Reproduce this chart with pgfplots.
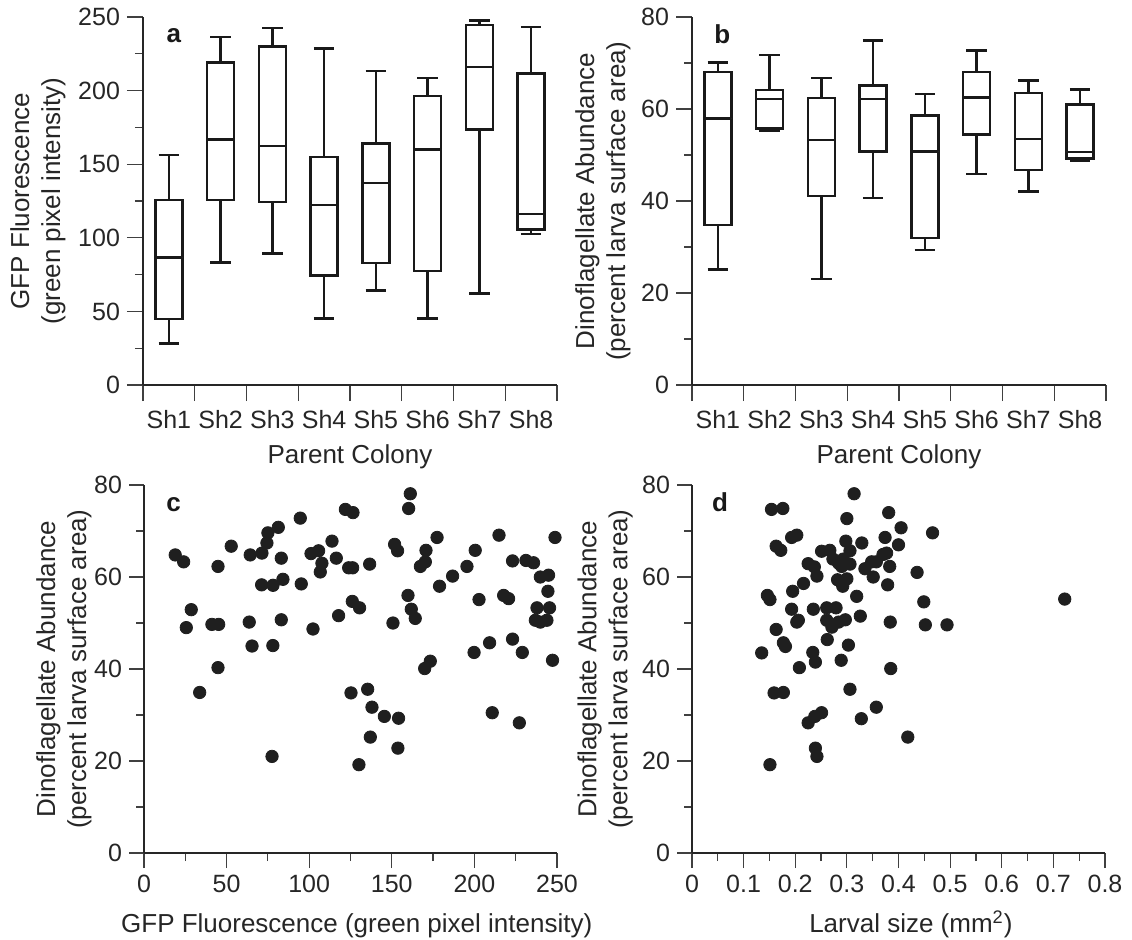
\documentclass[border=0pt]{standalone}
\usepackage{fontspec}
\setmainfont{Liberation Sans}
\usepackage{pgfplots}
\pgfplotsset{compat=1.18}
\usepgfplotslibrary{statistics}

\pgfplotsset{
  base/.style={
    scale only axis,
    anchor=south west,
    axis x line*=bottom, axis y line*=left,
    axis line style={-, line width=1.2pt, black!85},
    tick align=outside,
    major tick length=7.5pt, minor tick length=4pt,
    tick style={line width=0.6pt, black!75},
    font=\fontsize{12.5}{15}\selectfont,
    tick label style={font=\fontsize{12.5}{15}\selectfont, black!85},
    label style={font=\fontsize{13}{15.5}\selectfont, black!85},
    /pgf/number format/assume math mode=true,
    ylabel style={align=center, anchor=center},
    xlabel style={anchor=base},
    clip=false,
  },
  boxax/.style={
    base, width=207pt, height=184pt,
    xmin=0.5, xmax=8.5,
    xtick={0.5,1.5,2.5,3.5,4.5,5.5,6.5,7.5,8.5},
    xticklabels={Sh1,Sh2,Sh3,Sh4,Sh5,Sh6,Sh7,Sh8,{}},
    xticklabel style={xshift=12.94pt, yshift=-1pt},
    major tick length=8pt,
    minor y tick num=1,
    xlabel={Parent Colony},
    xlabel style={at={(axis description cs:0.5,-0.212)}},
    boxplot/draw direction=y,
    boxplot/box extend=0.52,
    boxplot/whisker extend=0.4,
  },
  bx/.style={black!90, line width=1.2pt, fill=white},
  scat/.style={only marks, mark=*, mark size=3.1pt, mark options={fill=black!88, draw=black!88}},
}
\newcommand{\bxp}[6]{\addplot[bx, boxplot prepared={draw position=#1, lower whisker=#2, lower quartile=#3, median=#4, upper quartile=#5, upper whisker=#6}] coordinates {};}
\newcommand{\plab}[3]{\node[anchor=base west, inner sep=0pt, font=\bfseries\fontsize{13}{13}\selectfont, black!90] at (axis description cs:#1,#2) {#3};}

\begin{document}
\begin{tikzpicture}
\useasboundingbox (0,0) rectangle (566pt,-469.5pt);

% ---------------- a ----------------
\begin{axis}[boxax, at={(71.5pt,-192.5pt)},
  ymin=0, ymax=250, ytick={0,50,100,150,200,250},
  ylabel={GFP Fluorescence\\(green pixel intensity)},
  ylabel style={at={(axis description cs:-0.2536,0.5)}}]
\bxp{1}{28.3}{44.8}{86.5}{125.7}{156.3}
\bxp{2}{83.3}{125.7}{166.9}{219.0}{236.6}
\bxp{3}{89.4}{124.3}{162.4}{229.9}{242.7}
\bxp{4}{45.3}{74.5}{122.1}{155.1}{228.7}
\bxp{5}{64.1}{82.8}{137.2}{164.2}{213.3}
\bxp{6}{45.3}{77.4}{159.9}{196.5}{208.6}
\bxp{7}{62.3}{173.7}{216.0}{244.6}{247.5}
\bxp{8}{102.4}{105.7}{116.0}{211.7}{243.4}
\plab{0.056}{0.932}{a}
\end{axis}

% ---------------- b ----------------
\begin{axis}[boxax, at={(346pt,-192.5pt)},
  ymin=0, ymax=80, ytick={0,20,40,60,80},
  ylabel={Dinoflagellate Abundance\\(percent larva surface area)},
  ylabel style={at={(axis description cs:-0.215,0.5)}}]
\bxp{1}{25.1}{34.8}{57.9}{68.0}{70.1}
\bxp{2}{55.2}{55.8}{62.2}{64.1}{71.7}
\bxp{3}{23.0}{41.1}{53.3}{62.4}{66.7}
\bxp{4}{40.6}{50.8}{62.2}{65.1}{74.9}
\bxp{5}{29.3}{32.0}{50.8}{58.6}{63.3}
\bxp{6}{45.9}{54.5}{62.5}{68.0}{72.7}
\bxp{7}{42.1}{46.8}{53.5}{63.5}{66.2}
\bxp{8}{48.8}{49.2}{50.7}{61.0}{64.2}
\plab{0.053}{0.929}{b}
\end{axis}

% ---------------- c ----------------
\begin{axis}[base, at={(72pt,-426.5pt)}, width=206.5pt, height=184pt,
  xmin=0, xmax=250, xtick={0,50,100,150,200,250}, minor x tick num=1,
  ymin=0, ymax=80, ytick={0,20,40,60,80}, minor y tick num=1,
  xlabel={GFP Fluorescence (green pixel intensity)},
  xlabel style={at={(axis description cs:0.515,-0.215)}},
  ylabel={Dinoflagellate Abundance\\(percent larva surface area)},
  ylabel style={at={(axis description cs:-0.194,0.5)}}]
\addplot[scat] table {
x y
18.9 64.8
24.0 63.3
28.6 52.9
25.6 49.0
33.7 34.9
41.1 49.7
45.2 49.7
44.8 62.3
44.8 40.3
52.8 66.7
64.3 64.8
63.7 50.2
65.4 45.0
71.4 65.2
71.2 58.3
74.4 67.4
75.0 69.6
81.3 70.8
78.1 58.2
78.0 45.1
77.5 21.0
83.1 64.1
84.1 59.5
83.1 50.7
94.6 72.8
95.2 58.5
101.1 65.1
105.7 65.7
107.7 63.0
106.7 61.1
102.3 48.7
113.8 67.8
116.4 64.1
117.8 51.6
121.9 74.7
126.5 74.0
123.9 62.0
126.3 62.0
126.1 54.7
130.5 53.3
125.3 34.8
130.1 19.2
161.2 78.1
160.2 74.9
151.7 67.1
153.5 65.7
136.6 62.8
177.4 68.6
170.7 65.8
170.3 63.3
167.3 62.3
178.9 58.0
186.8 60.2
195.5 62.3
200.5 65.8
214.9 69.1
248.8 68.6
223.1 63.5
231.2 63.6
235.8 63.1
239.9 60.0
244.9 60.4
244.5 56.9
237.9 53.3
245.5 53.3
236.9 50.6
239.9 50.2
243.9 50.6
247.3 41.9
159.8 56.0
161.8 53.0
164.2 51.0
150.7 50.0
173.3 41.7
169.9 40.1
202.8 55.1
217.7 56.0
220.7 55.3
199.8 43.6
209.2 45.7
223.1 46.5
229.0 43.6
210.8 30.5
227.2 28.3
135.4 35.6
138.0 31.7
145.5 29.7
154.1 29.3
137.0 25.2
153.7 22.8
};
\plab{0.053}{0.927}{c}
\end{axis}

% ---------------- d ----------------
\begin{axis}[base, at={(346pt,-426.5pt)}, width=206.5pt, height=184pt,
  xmin=0, xmax=0.8, xtick={0,0.1,0.2,0.3,0.4,0.5,0.6,0.7,0.8}, minor x tick num=1,
  ymin=0, ymax=80, ytick={0,20,40,60,80}, minor y tick num=1,
  xlabel={Larval size (mm\textsuperscript{2})},
  xlabel style={at={(axis description cs:0.53,-0.215)}},
  ylabel={Dinoflagellate Abundance\\(percent larva surface area)},
  ylabel style={at={(axis description cs:-0.21,0.5)}}]
\addplot[scat] table {
x y
0.154 74.7
0.176 74.9
0.163 66.7
0.172 65.8
0.193 68.6
0.203 69.1
0.146 56.0
0.151 55.1
0.195 56.9
0.216 58.6
0.225 62.9
0.237 62.2
0.242 60.2
0.251 65.6
0.267 65.8
0.273 63.9
0.284 63.0
0.293 63.9
0.306 62.8
0.290 62.3
0.300 72.7
0.314 78.1
0.298 67.8
0.306 65.7
0.329 67.4
0.282 59.4
0.300 59.6
0.292 58.0
0.319 55.8
0.335 61.8
0.351 60.0
0.348 63.3
0.357 63.3
0.326 51.5
0.193 53.0
0.235 53.0
0.261 53.3
0.279 53.3
0.206 50.6
0.203 50.2
0.261 50.6
0.271 49.1
0.284 50.2
0.297 50.7
0.163 48.6
0.177 45.7
0.181 44.9
0.262 46.4
0.303 45.2
0.135 43.5
0.234 43.6
0.239 41.5
0.208 40.3
0.289 41.9
0.159 34.8
0.177 34.9
0.306 35.6
0.225 28.3
0.238 29.7
0.251 30.5
0.328 29.2
0.239 22.8
0.242 21.0
0.151 19.2
0.357 31.7
0.381 74.0
0.405 70.7
0.466 69.6
0.374 68.6
0.400 67.0
0.370 64.9
0.377 65.2
0.383 62.3
0.379 58.3
0.436 61.0
0.449 54.6
0.384 50.2
0.452 49.6
0.494 49.6
0.722 55.2
0.385 40.1
0.418 25.2
};
\plab{0.048}{0.927}{d}
\end{axis}
\end{tikzpicture}
\end{document}
